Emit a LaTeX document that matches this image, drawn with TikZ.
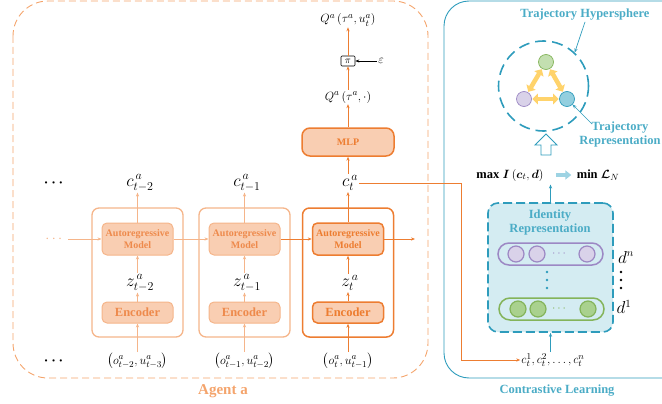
\documentclass[tikz,border=0pt]{standalone}
\usepackage{amsmath,amssymb}
\usepackage{bm}
\usepackage{fontspec}
\setmainfont{Liberation Serif}
\usetikzlibrary{arrows.meta,calc}
\definecolor{dor}{HTML}{ED7D31}
\definecolor{lor}{HTML}{F5B58A}
\definecolor{orfill}{HTML}{F9CEB2}
\definecolor{ortxt}{HTML}{EE8A4C}
\definecolor{agentc}{HTML}{F4A46C}
\definecolor{tl}{HTML}{2E9CBC}
\definecolor{tltxt}{HTML}{4BACC6}
\definecolor{idfill}{HTML}{D4ECF2}
\definecolor{pur}{HTML}{9C88C4}
\definecolor{purf}{HTML}{D9D2E9}
\definecolor{grn}{HTML}{84B45A}
\definecolor{grnf}{HTML}{A9D18E}
\definecolor{yel}{HTML}{FFD36B}
\definecolor{tlf}{HTML}{93CFDF}
\definecolor{lb}{HTML}{9DD3E3}
\begin{document}
\begin{tikzpicture}[x=1pt,y=-1pt,
  lfr/.style={draw=lor, line width=1.3pt, rounded corners=7pt, minimum width=91pt, minimum height=129pt, inner sep=0pt},
  dfr/.style={lfr, draw=dor, line width=1.5pt},
  larb/.style={draw=lor, fill=orfill, line width=1pt, rounded corners=5pt, minimum width=71pt, minimum height=32pt, inner sep=0pt, align=center, font=\bfseries\fontsize{10}{11.5}\selectfont, text=ortxt},
  darb/.style={larb, draw=dor, line width=1.5pt, text=dor},
  lenc/.style={larb, minimum height=21pt, font=\bfseries\fontsize{12.5}{14}\selectfont},
  denc/.style={lenc, draw=dor, line width=1.5pt, text=dor},
  lar/.style={-{Stealth[length=4pt,width=3.2pt]}, draw=lor, line width=0.8pt},
  dar/.style={lar, draw=dor},
  tar/.style={-{Stealth[length=4pt,width=3.2pt]}, draw=tl, line width=0.7pt},
  mlab/.style={font=\fontsize{18}{20}\selectfont, inner sep=1pt},
  ilab/.style={font=\fontsize{13}{15}\selectfont, inner sep=1pt},
  tlab/.style={font=\bfseries\fontsize{12.5}{14}\selectfont, text=tltxt, inner sep=1pt},
  pill/.style={line width=1.5pt, rounded corners=11pt, minimum width=105pt, minimum height=22pt, inner sep=0pt},
  dotc/.style={circle, minimum size=16pt, inner sep=0pt, line width=1.2pt},
  sc/.style={circle, minimum size=15pt, inner sep=0pt, line width=0.7pt},
  yarr/.style={draw=yel, line width=4.5pt, {Triangle[length=5.5pt,width=10.5pt]}-{Triangle[length=5.5pt,width=10.5pt]}, shorten >=0.5pt, shorten <=0.5pt}
]
\useasboundingbox (0,0) rectangle (662,404);

% ---------------- Agent box ----------------
\draw[agentc, line width=0.9pt, dash pattern=on 7pt off 4pt, rounded corners=35pt] (13,1) rectangle (428,378);
\node[font=\bfseries\fontsize{15}{18}\selectfont, text=agentc] (agent) at (223,391) {Agent a};

% frames
\node[lfr] (f1) at (137.5,272.5) {};
\node[lfr] (f2) at (244.5,272.5) {};
\node[dfr] (f3) at (348,272.5) {};

% autoregressive models
\node[larb] (ar1) at (137.5,239) {Autoregressive\\Model};
\node[larb] (ar2) at (244.5,239) {Autoregressive\\Model};
\node[darb] (ar3) at (348,239) {Autoregressive\\Model};

% encoders
\node[lenc] (e1) at (137.5,312.5) {Encoder};
\node[lenc] (e2) at (244.5,312.5) {Encoder};
\node[denc] (e3) at (348,312.5) {Encoder};

% z labels
\node[mlab] (z1) at (140,283) {$z_{t-2}^{\,a}$};
\node[mlab] (z2) at (247,283) {$z_{t-1}^{\,a}$};
\node[mlab] (z3) at (350,283) {$z_{t}^{\,a}$};

% c labels
\node[mlab] (c1) at (140,183) {$c_{t-2}^{\,a}$};
\node[mlab] (c2) at (247,183) {$c_{t-1}^{\,a}$};
\node[mlab] (c3) at (350,183) {$c_{t}^{\,a}$};

% inputs
\node[ilab] (i1) at (137.5,361) {$\left(o_{t-2}^a,u_{t-3}^a\right)$};
\node[ilab] (i2) at (244.5,361) {$\left(o_{t-1}^a,u_{t-2}^a\right)$};
\node[ilab] (i3) at (348,361) {$\left(o_{t}^a,u_{t-1}^a\right)$};

% dots
\node[font=\fontsize{15}{18}\selectfont] (dc) at (55,183) {$\bm{\cdots}$};
\node[font=\fontsize{15}{18}\selectfont] (di) at (55,361) {$\bm{\cdots}$};
\node[font=\fontsize{15}{18}\selectfont, text=lor] (da) at (55,239) {$\cdots$};
\coordinate (arend) at (415,239);

% vertical arrows
\draw[lar] (i1.north -| e1) -- (e1); \draw[lar] (e1) -- (e1 |- z1.south); \draw[lar] (e1 |- z1.north) -- (ar1); \draw[lar] (ar1) -- (ar1 |- c1.south);
\draw[lar] (i2.north -| e2) -- (e2); \draw[lar] (e2) -- (e2 |- z2.south); \draw[lar] (e2 |- z2.north) -- (ar2); \draw[lar] (ar2) -- (ar2 |- c2.south);
\draw[dar] (i3.north -| e3) -- (e3); \draw[dar] (e3) -- (e3 |- z3.south); \draw[dar] (e3 |- z3.north) -- (ar3); \draw[dar] (ar3) -- (ar3 |- c3.south);
% horizontal arrows
\draw[lar] (da.east) -- (ar1.west);
\draw[lar] (ar1.east) -- (ar2.west);
\draw[dar] (ar2.east) -- (ar3.west);
\draw[dar] (ar3.east) -- (arend);

% head
\node[draw=dor, fill=orfill, line width=1.5pt, rounded corners=8pt, minimum width=92pt, minimum height=28pt, inner sep=0pt, font=\bfseries\fontsize{10}{12}\selectfont, text=dor] (mlp) at (348,142) {MLP};
\node[ilab] (q1) at (348,97) {$Q^a\left(\tau^a,\cdot\right)$};
\node[draw=black, line width=0.6pt, rounded corners=1pt, minimum width=14pt, minimum height=10pt, inner sep=0.5pt, font=\fontsize{10}{11}\selectfont] (pi) at (348,61) {$\pi$};
\node[ilab] (q2) at (348,20) {$Q^a\left(\tau^a,u_t^a\right)$};
\node[ilab] (eps) at (381,61) {$\varepsilon$};
\draw[dar] (mlp |- c3.north) -- (mlp);
\draw[dar] (mlp) -- (q1);
\draw[dar] (q1) -- (pi);
\draw[dar] (pi) -- (q2);
\draw[-{Stealth[length=4pt,width=3pt]}, black, line width=0.6pt] (eps) -- (pi);

% ---------------- Contrastive box ----------------
\draw[tl, line width=0.9pt, rounded corners=25pt] (444,1) rectangle (700,378);
\node[font=\bfseries\fontsize{12.5}{14}\selectfont, text=tltxt] (cl) at (557,391) {Contrastive Learning};

\node[ilab] (clist) at (553,360) {$c_t^1,c_t^2,\ldots,c_t^n$};
\draw[dar] (c3.east |- 0,183) -- (461,183) -- (461,360) -- (clist.west);

% identity representation
\node[draw=tl, fill=idfill, dash pattern=on 9pt off 4pt, line width=1.6pt, rounded corners=10pt, minimum width=125pt, minimum height=129pt, inner sep=0pt] (idb) at (550.5,267.5) {};
\node[tlab, align=center] (idt) at (550,222) {Identity\\Representation};

\node[pill, draw=pur] (pp) at (550.5,254) {};
\node[dotc, fill=purf, draw=pur] (p1) at (516,254) {};
\node[dotc, fill=purf, draw=pur] (p2) at (537,254) {};
\node[text=pur, font=\fontsize{12}{14}\selectfont] (pd) at (560,254) {$\cdots$};
\node[dotc, fill=purf, draw=pur] (p4) at (587,254) {};

\node[pill, draw=grn] (gp) at (551.5,309) {};
\node[dotc, fill=grnf, draw=grn] (g1) at (518,309) {};
\node[dotc, fill=grnf, draw=grn] (g2) at (538,309) {};
\node[text=grn, font=\fontsize{12}{14}\selectfont] (gd) at (560,309) {$\cdots$};
\node[dotc, fill=grnf, draw=grn] (g4) at (588,309) {};

\fill[tl] (547,272) circle (1.3) (547,280) circle (1.3) (547,288) circle (1.3);
\node[font=\fontsize{16}{18}\selectfont] (dn) at (626,257) {$d^n$};
\node[font=\fontsize{16}{18}\selectfont] (d1) at (624,307) {$d^1$};
\fill[black] (621,272) circle (1.4) (621,280) circle (1.4) (621,288) circle (1.4);

\draw[tar] (idb.south |- clist.north) -- (idb.south);

% objective
\node[font=\fontsize{12.5}{14}\selectfont] (maxn) at (510,175) {$\mathbf{max}\;\bm{I}\left(\bm{c}_t,\bm{d}\right)$};
\node[font=\fontsize{12.5}{14}\selectfont] (minn) at (598,175) {\textbf{min} $\bm{\mathcal{L}}_N$};
\draw[tar] (idb.north) -- (idb.north |- maxn.south);
\draw[lb, line width=4pt, -{Triangle[length=6pt,width=9pt]}] ($(maxn.east)+(9,0)$) -- ($(minn.west)+(-2,0)$);

% hollow arrow
\draw[tl, line width=0.9pt, fill=white] (541,155) -- (551,155) -- (551,145) -- (557,145) -- (546,134) -- (535,145) -- (541,145) -- cycle;

% hypersphere
\node[circle, draw=tl, line width=1.6pt, dash pattern=on 11pt off 6pt, minimum size=90pt, inner sep=0pt] (hs) at (543.5,86) {};
\node[sc, fill=grnf!70, draw=grn] (gn) at (546,62) {};
\node[sc, fill=purf, draw=pur] (pn) at (524,99) {};
\node[sc, fill=tlf, draw=tl] (tn) at (567,99) {};
\draw[yarr] (gn) -- (pn);
\draw[yarr] (gn) -- (tn);
\draw[yarr] (pn) -- (tn);

\node[tlab] (th) at (585,15) {Trajectory Hypersphere};
\draw[tar] (th.south) -- (hs.47);
\node[tlab, align=center] (tr) at (620,134) {Trajectory\\Representation};
\coordinate (trs) at (592,124);
\draw[tar] (trs) -- (tn.south east);
\end{tikzpicture}
\end{document}
